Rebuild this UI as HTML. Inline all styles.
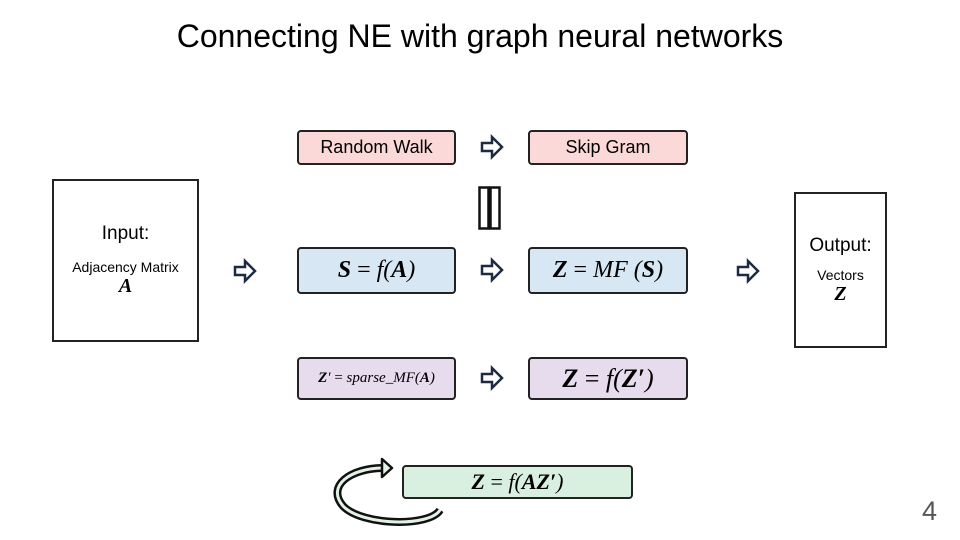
<!DOCTYPE html>
<html><head><meta charset="utf-8"><style>
body{margin:0;width:960px;height:540px;background:#fff;position:relative;overflow:hidden;font-family:"Liberation Sans",sans-serif;}
.b{position:absolute;box-sizing:border-box;border:2px solid #222;border-radius:4px;display:flex;align-items:center;justify-content:center;text-align:center;}
.m{font-family:"Liberation Serif",serif;font-style:italic;}
.t{position:absolute;left:0;width:960px;text-align:center;top:18px;font-size:32px;color:#000;}
</style></head><body>
<div class="t">Connecting NE with graph neural networks</div>
<div class="b" style="left:52px;top:179px;width:147px;height:163px;border-radius:0;flex-direction:column;">
 <div style="font-size:19px;margin-bottom:14px">Input:</div>
 <div style="font-size:14px">Adjacency Matrix</div>
 <div class="m" style="font-size:20px;font-weight:bold">A</div>
</div>
<div class="b" style="left:794px;top:192px;width:93px;height:156px;border-radius:0;flex-direction:column;">
 <div style="font-size:19px;margin-bottom:10px">Output:</div>
 <div style="font-size:14px">Vectors</div>
 <div class="m" style="font-size:20px;font-weight:bold">Z</div>
</div>
<div class="b" style="left:297px;top:130px;width:159px;height:35px;background:#fbd9d8;font-size:18px">Random Walk</div>
<div class="b" style="left:528px;top:130px;width:160px;height:35px;background:#fbd9d8;font-size:18px">Skip Gram</div>
<div class="b" style="left:297px;top:247px;width:159px;height:47px;background:#d7e7f3;font-size:24px"><span class="m"><b>S</b> <span style="font-style:normal">=</span> f(<b>A</b>)</span></div>
<div class="b" style="left:528px;top:247px;width:160px;height:47px;background:#d7e7f3;font-size:24px"><span class="m"><b>Z</b> <span style="font-style:normal">=</span> MF (<b>S</b>)</span></div>
<div class="b" style="left:297px;top:357px;width:159px;height:43px;background:#e7dced;font-size:15px"><span class="m"><b>Z</b>′ <span style="font-style:normal">=</span> sparse_MF(<b>A</b>)</span></div>
<div class="b" style="left:528px;top:357px;width:160px;height:43px;background:#e7dced;font-size:26px"><span class="m"><b>Z</b> <span style="font-style:normal">=</span> f(<b>Z′</b>)</span></div>
<div class="b" style="left:402px;top:465px;width:231px;height:34px;background:#d9f0e1;font-size:22px"><span class="m"><b>Z</b> <span style="font-style:normal">=</span> f(<b>AZ′</b>)</span></div>
<svg width="960" height="540" style="position:absolute;left:0;top:0">
<defs><polygon id="ar" points="0,-4 10,-4 10,-10 20,0 10,10 10,4 0,4" fill="#fff" stroke="#1e2a44" stroke-width="2.5" stroke-linejoin="miter"/></defs>
<use href="#ar" x="235" y="271"/>
<use href="#ar" x="482" y="147"/>
<use href="#ar" x="482" y="270"/>
<use href="#ar" x="482" y="378"/>
<use href="#ar" x="738" y="271"/>
<rect x="479.5" y="187.5" width="9" height="41" fill="#fff" stroke="#111" stroke-width="2.5"/>
<rect x="490.5" y="187.5" width="9" height="41" fill="#fff" stroke="#111" stroke-width="2.5"/>
<path d="M440,510 C430,527 362,526 343,506 C326,486 350,468 384,468" fill="none" stroke="#111" stroke-width="8"/>
<path d="M440,510 C430,527 362,526 343,506 C326,486 350,468 384,468" fill="none" stroke="#e3f2e6" stroke-width="3"/>
<polygon points="382,459 392,468 382,477" fill="#e3f2e6" stroke="#111" stroke-width="2.5" stroke-linejoin="round"/>
</svg>
<div style="position:absolute;left:922px;top:496px;font-size:27px;color:#555">4</div>
</body></html>
